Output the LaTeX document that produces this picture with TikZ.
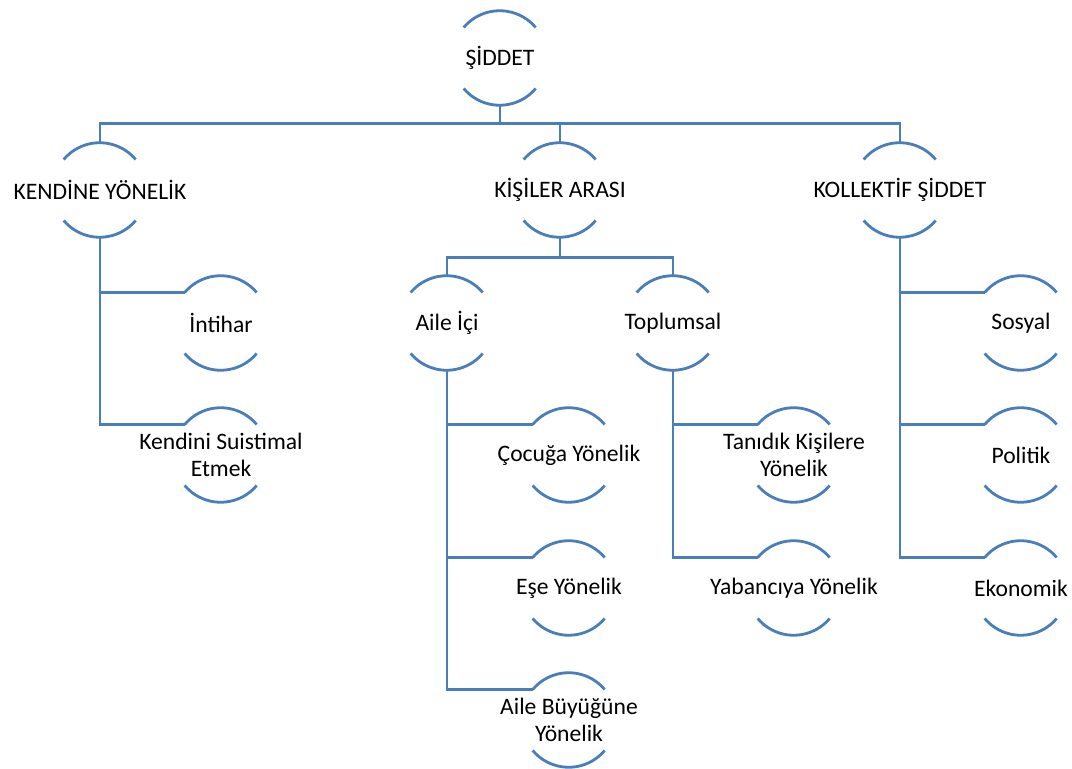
\documentclass[tikz,border=0pt]{standalone}
\usepackage{fontspec}
\setmainfont{Carlito}
\usetikzlibrary{positioning}
\definecolor{smartblue}{RGB}{74,126,187}

\newcommand{\ring}[1]{%
  \draw[arcline] (#1.140) arc[start angle=140, end angle=40, radius=23.5pt];
  \draw[arcline] (#1.220) arc[start angle=220, end angle=320, radius=23.5pt];}

\begin{document}
\begin{tikzpicture}[x=0.5pt, y=-0.5pt,
   ring/.style={circle, minimum size=47pt, inner sep=0pt},
   txt/.style={inner sep=0pt, align=center, font=\fontsize{11.8}{13.3}\selectfont},
   arcline/.style={smartblue, line width=1.4pt},
   link/.style={smartblue, line width=1.4pt}]
   \useasboundingbox (0,0) rectangle (1072,769);
   % circles
   \node (root) at (500,58) [ring] {};
   \node (kend) at (100,190) [ring] {};
   \node (kisi) at (560,190) [ring] {};
   \node (koll) at (900,190) [ring] {};
   \node (inti) at (221,323) [ring] {};
   \node (ksui) at (221,455) [ring] {};
   \node (aile) at (447,323) [ring] {};
   \node (topl) at (673,323) [ring] {};
   \node (cocu) at (569,455) [ring] {};
   \node (ese)  at (569,588) [ring] {};
   \node (buyu) at (569,720) [ring] {};
   \node (tani) at (794,455) [ring] {};
   \node (yaba) at (794,588) [ring] {};
   \node (sosy) at (1021,323) [ring] {};
   \node (poli) at (1021,455) [ring] {};
   \node (ekon) at (1021,588) [ring] {};
   \foreach \n in {root,kend,kisi,koll,inti,ksui,aile,topl,cocu,ese,buyu,tani,yaba,sosy,poli,ekon}
      {\ring{\n}}
   % labels
   \node (root-t) at (root) [txt] {ŞİDDET};
   \node (kend-t) at (kend) [txt] {KENDİNE YÖNELİK};
   \node (kisi-t) at (kisi) [txt] {KİŞİLER ARASI};
   \node (koll-t) at (koll) [txt] {KOLLEKTİF ŞİDDET};
   \node (inti-t) at (inti) [txt] {İntihar};
   \node (ksui-t) at (ksui) [txt] {Kendini Suistimal\\Etmek};
   \node (aile-t) at (aile) [txt] {Aile İçi};
   \node (topl-t) at (topl) [txt] {Toplumsal};
   \node (cocu-t) at (cocu) [txt] {Çocuğa Yönelik};
   \node (ese-t)  at (ese)  [txt] {Eşe Yönelik};
   \node (buyu-t) at (buyu) [txt] {Aile Büyüğüne\\Yönelik};
   \node (tani-t) at (tani) [txt] {Tanıdık Kişilere\\Yönelik};
   \node (yaba-t) at (yaba) [txt] {Yabancıya Yönelik};
   \node (sosy-t) at (sosy) [txt] {Sosyal};
   \node (poli-t) at (poli) [txt] {Politik};
   \node (ekon-t) at (ekon) [txt] {Ekonomik};
   % connectors
   \draw[link] (root.south) -- ++(0,18) -| (kend.north);
   \draw[link] (root.south) -- ++(0,18) -| (koll.north);
   \draw[link] (kisi.north) -- ++(0,-20);
   \draw[link] (kisi.south) -- ++(0,20) -| (aile.north);
   \draw[link] (kisi.south) -- ++(0,20) -| (topl.north);
   \foreach \p/\c in {kend/inti, kend/ksui, aile/cocu, aile/ese, aile/buyu,
                      topl/tani, topl/yaba, koll/sosy, koll/poli, koll/ekon}
      {\draw[link] (\p.south) |- (\c.140);}
\end{tikzpicture}
\end{document}
